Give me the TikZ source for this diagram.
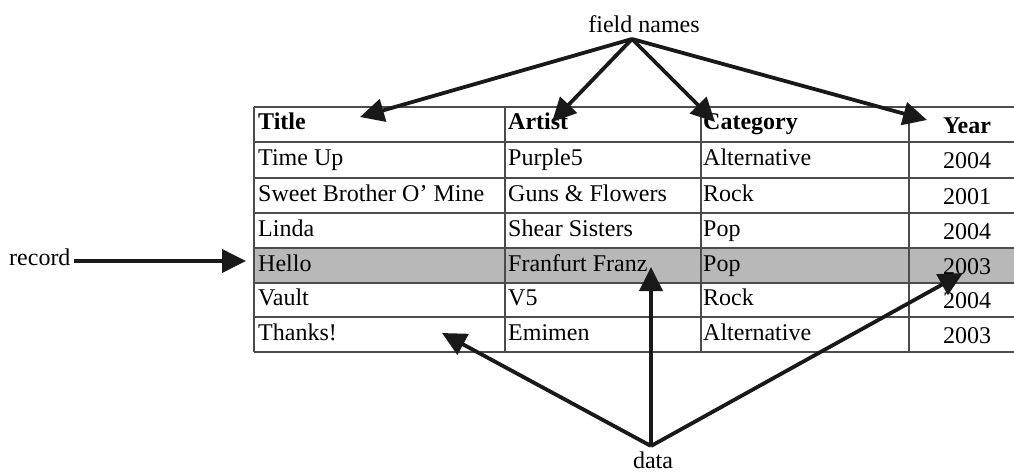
\documentclass[tikz,border=0pt]{standalone}
\usepackage{fontspec}
\setmainfont{Liberation Serif}
\usetikzlibrary{arrows.meta}
\begin{document}
\begin{tikzpicture}[x=1pt,y=-1pt,
  cell/.style={anchor=base west,inner sep=0pt,font=\fontsize{24}{24}\selectfont},
  ycell/.style={anchor=base,inner sep=0pt,font=\fontsize{24}{24}\selectfont},
  hdr/.style={font=\fontsize{24}{24}\selectfont\bfseries},
  gridline/.style={line width=1.3pt,draw=black!70},
  arr/.style={line width=3.8pt,draw=black!90,-{Triangle[length=24pt,width=23pt]}},
  lbl/.style={anchor=base,inner sep=0pt,font=\fontsize{24}{24}\selectfont}]
\useasboundingbox (0,0) rectangle (1014,474);
% shaded record row
\fill[black!28] (254,248) rectangle (1020,283);
% grid
\foreach \y in {107,142,178,213,248,283,317,352}
  \draw[gridline] (254,\y) -- (1020,\y);
\foreach \x in {254,505,701,909}
  \draw[gridline] (\x,107) -- (\x,352);
% header row
\node[cell,hdr] (hTitle) at (258,129) {Title};
\node[cell,hdr] (hArtist) at (508,129) {Artist};
\node[cell,hdr] (hCat) at (703,129) {Category};
\node[ycell,hdr] (hYear) at (967,133) {Year};
% data rows
\node[cell] (t1) at (258,165) {Time Up};
\node[cell] (a1) at (508,165) {Purple5};
\node[cell] (c1) at (703,165) {Alternative};
\node[ycell] (y1) at (967,168) {2004};
\node[cell] (t2) at (258,201) {Sweet Brother O’ Mine};
\node[cell] (a2) at (508,201) {Guns \& Flowers};
\node[cell] (c2) at (703,201) {Rock};
\node[ycell] (y2) at (967,204) {2001};
\node[cell] (t3) at (258,236) {Linda};
\node[cell] (a3) at (508,236) {Shear Sisters};
\node[cell] (c3) at (703,236) {Pop};
\node[ycell] (y3) at (967,239) {2004};
\node[cell] (t4) at (258,271) {Hello};
\node[cell] (a4) at (508,271) {Franfurt Franz};
\node[cell] (c4) at (703,271) {Pop};
\node[ycell] (y4) at (967,274) {2003};
\node[cell] (t5) at (258,305) {Vault};
\node[cell] (a5) at (508,305) {V5};
\node[cell] (c5) at (703,305) {Rock};
\node[ycell] (y5) at (967,308) {2004};
\node[cell] (t6) at (258,340) {Thanks!};
\node[cell] (a6) at (508,340) {Emimen};
\node[cell] (c6) at (703,340) {Alternative};
\node[ycell] (y6) at (967,343) {2003};
% labels
\node[lbl] (fn) at (644,32) {field names};
\node[lbl,anchor=base west] (rec) at (9,265) {record};
\node[lbl] (dat) at (653,468) {data};
% arrow apexes and tips
\coordinate (fnApex) at (632,39);
\coordinate (dApex) at (651,446);
\coordinate (recStart) at (74,261);
\coordinate (tipTitle) at (360,117);
\coordinate (tipArtist) at (552,122);
\coordinate (tipCat) at (715,122);
\coordinate (tipYear) at (927,120);
\coordinate (tipRec) at (246,261);
\coordinate (tipThanks) at (442,333);
\coordinate (tipFranz) at (651,267);
\coordinate (tipYr) at (963,273);
\draw[arr] (fnApex) -- (tipTitle);
\draw[arr] (fnApex) -- (tipArtist);
\draw[arr] (fnApex) -- (tipCat);
\draw[arr] (fnApex) -- (tipYear);
\draw[arr] (recStart) -- (tipRec);
\draw[arr] (dApex) -- (tipThanks);
\draw[arr] (dApex) -- (tipFranz);
\draw[arr] (dApex) -- (tipYr);
\end{tikzpicture}
\end{document}
